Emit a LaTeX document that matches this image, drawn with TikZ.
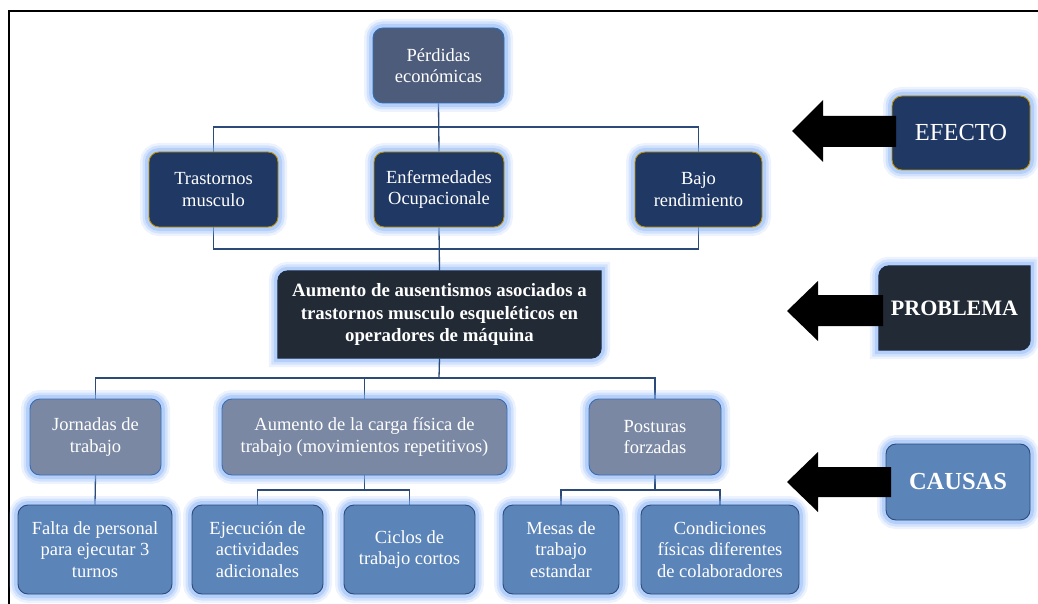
\documentclass[tikz,border=0pt]{standalone}
\usepackage{fontspec}
\setmainfont{Liberation Serif}
\usetikzlibrary{backgrounds,calc}

\definecolor{glowc}{HTML}{86B2F6}
\definecolor{linec}{HTML}{2B4A78}
\definecolor{perdfill}{HTML}{4E5C7B}
\definecolor{perdline}{HTML}{2F6DB5}
\definecolor{navy}{HTML}{203864}
\definecolor{gold}{HTML}{BF9000}
\definecolor{probfill}{HTML}{222A35}
\definecolor{probline}{HTML}{1C2B45}
\definecolor{greyblue}{HTML}{7A88A4}
\definecolor{greyline}{HTML}{3A6CB0}
\definecolor{midblue}{HTML}{5B84B8}
\definecolor{midline}{HTML}{2C4B7C}

\newcommand{\txtnormal}{\fontsize{18.5}{21.5}\selectfont}
\newcommand{\txtbold}{\fontsize{18.8}{22.5}\selectfont\bfseries}

\begin{document}
\begin{tikzpicture}[x=1pt,y=-1pt,
  glow/.style={
    preaction={draw=glowc, line width=18pt, draw opacity=.16},
    preaction={draw=glowc, line width=13pt, draw opacity=.25},
    preaction={draw=glowc, line width=8pt, draw opacity=.4}},
  box/.style={rectangle, rounded corners=10pt, align=center, text=white,
    inner sep=2pt, line width=0.9pt, glow, font=\txtnormal},
  effbox/.style={box, fill=navy, draw=gold},
  topbox/.style={box, fill=perdfill, draw=perdline},
  causebox/.style={box, fill=greyblue, draw=greyline},
  subbox/.style={box, fill=midblue, draw=midline},
  textonly/.style={rectangle, align=center, text=white, inner sep=2pt},
  diagshape/.style={glow, line width=0.9pt},
  conn/.style={draw=linec, line width=1.3pt},
  bigarrow/.style={fill=black}]

\useasboundingbox (0,0) rectangle (1038,604);

% page frame
\draw[line width=2pt, black] (9,604) -- (9,11) -- (1038,11);

% ---------- nodes ----------
\node[topbox, minimum width=131, minimum height=75] (perd) at (438.5,65.5) {Pérdidas\\económicas};

\node[effbox, minimum width=129, minimum height=75] (tras) at (213.5,189.5) {Trastornos\\musculo};
\node[effbox, minimum width=130, minimum height=75] (enf) at (439,189.5) {Enfermedades\\Ocupacionale};
\node[effbox, minimum width=127, minimum height=75] (bajo) at (698.5,189.5) {Bajo\\rendimiento};

\node[textonly, font=\txtbold, minimum width=323, minimum height=87] (prob) at (439.5,314.5)
  {Aumento de ausentismos asociados a\\trastornos musculo esqueléticos en\\operadores de máquina};

\node[causebox, minimum width=131, minimum height=76] (jor) at (95.5,437) {Jornadas de\\trabajo};
\node[causebox, minimum width=285, minimum height=76] (aum) at (364.5,437) {Aumento de la carga física de\\trabajo (movimientos repetitivos)};
\node[causebox, minimum width=132, minimum height=76] (post) at (655,437) {Posturas\\forzadas};

\node[subbox, minimum width=154, minimum height=89] (fal) at (95,549.5) {Falta de personal\\para ejecutar 3\\turnos};
\node[subbox, minimum width=131, minimum height=89] (eje) at (257.5,549.5) {Ejecución de\\actividades\\adicionales};
\node[subbox, minimum width=131, minimum height=89] (cic) at (409.5,549.5) {Ciclos de\\trabajo cortos};
\node[subbox, minimum width=116, minimum height=89] (mes) at (561,549.5) {Mesas de\\trabajo\\estandar};
\node[subbox, minimum width=158, minimum height=89] (cond) at (720,549.5) {Condiciones\\físicas diferentes\\de colaboradores};

% side labels
\node[effbox, minimum width=138, minimum height=74, font=\fontsize{24.5}{28}\selectfont] (efecto) at (961,133) {EFECTO};
\node[textonly, minimum width=151, minimum height=84, font=\fontsize{22}{26}\selectfont\bfseries] (problema) at (954.5,308) {PROBLEMA};
\node[subbox, minimum width=144, minimum height=76, font=\fontsize{24.5}{28}\selectfont\bfseries] (causas) at (958,482) {CAUSAS};

% ---------- shapes with two rounded corners (behind their text) ----------
\begin{pgfonlayer}{background}
  \foreach \bx in {prob, problema}{
    \path[diagshape, fill=probfill, draw=probline]
      let \p1=(\bx.north west), \p2=(\bx.south east) in
      (\x1,\y1-10pt) .. controls (\x1,\y1-4.48pt) and (\x1+4.48pt,\y1) .. (\x1+10pt,\y1)
      -- (\x2,\y1) -- (\x2,\y2+10pt)
      .. controls (\x2,\y2+4.48pt) and (\x2-4.48pt,\y2) .. (\x2-10pt,\y2)
      -- (\x1,\y2) -- cycle;
  }
\end{pgfonlayer}

% ---------- connectors ----------
\coordinate (jA) at (439,127);
\coordinate (jB) at (439,249);
\coordinate (jC) at (439,378);
\coordinate (jD) at (364.5,490);
\coordinate (jE) at (655,490);

\begin{pgfonlayer}{background}
  \draw[conn] (perd.south) -- (enf.north);
  \draw[conn] (tras.north) |- (jA) -| (bajo.north);
  \draw[conn] (tras.south) |- (jB) -| (bajo.south);
  \draw[conn] (enf.south) -- (prob.north);
  \draw[conn] (prob.south) -- (jC);
  \draw[conn] (jor.north) |- (jC) -| (post.north);
  \draw[conn] (aum.north) -- (aum.north |- jC);
  \draw[conn] (jor.south) -- (fal.north);
  \draw[conn] (aum.south) -- (jD);
  \draw[conn] (eje.north) |- (jD) -| (cic.north);
  \draw[conn] (post.south) -- (jE);
  \draw[conn] (mes.north) |- (jE) -| (cond.north);
\end{pgfonlayer}

% ---------- block arrows pointing at the diagram ----------
\fill[bigarrow] (792,131) -- (823,100) -- (823,116) -- (896,116) -- (896,147) -- (823,147) -- (823,162) -- cycle;
\fill[bigarrow] (787,311) -- (818,281) -- (818,295) -- (883,295) -- (883,326) -- (818,326) -- (818,341) -- cycle;
\fill[bigarrow] (787,482) -- (818,452) -- (818,467) -- (891,467) -- (891,497) -- (818,497) -- (818,512) -- cycle;

\end{tikzpicture}
\end{document}
